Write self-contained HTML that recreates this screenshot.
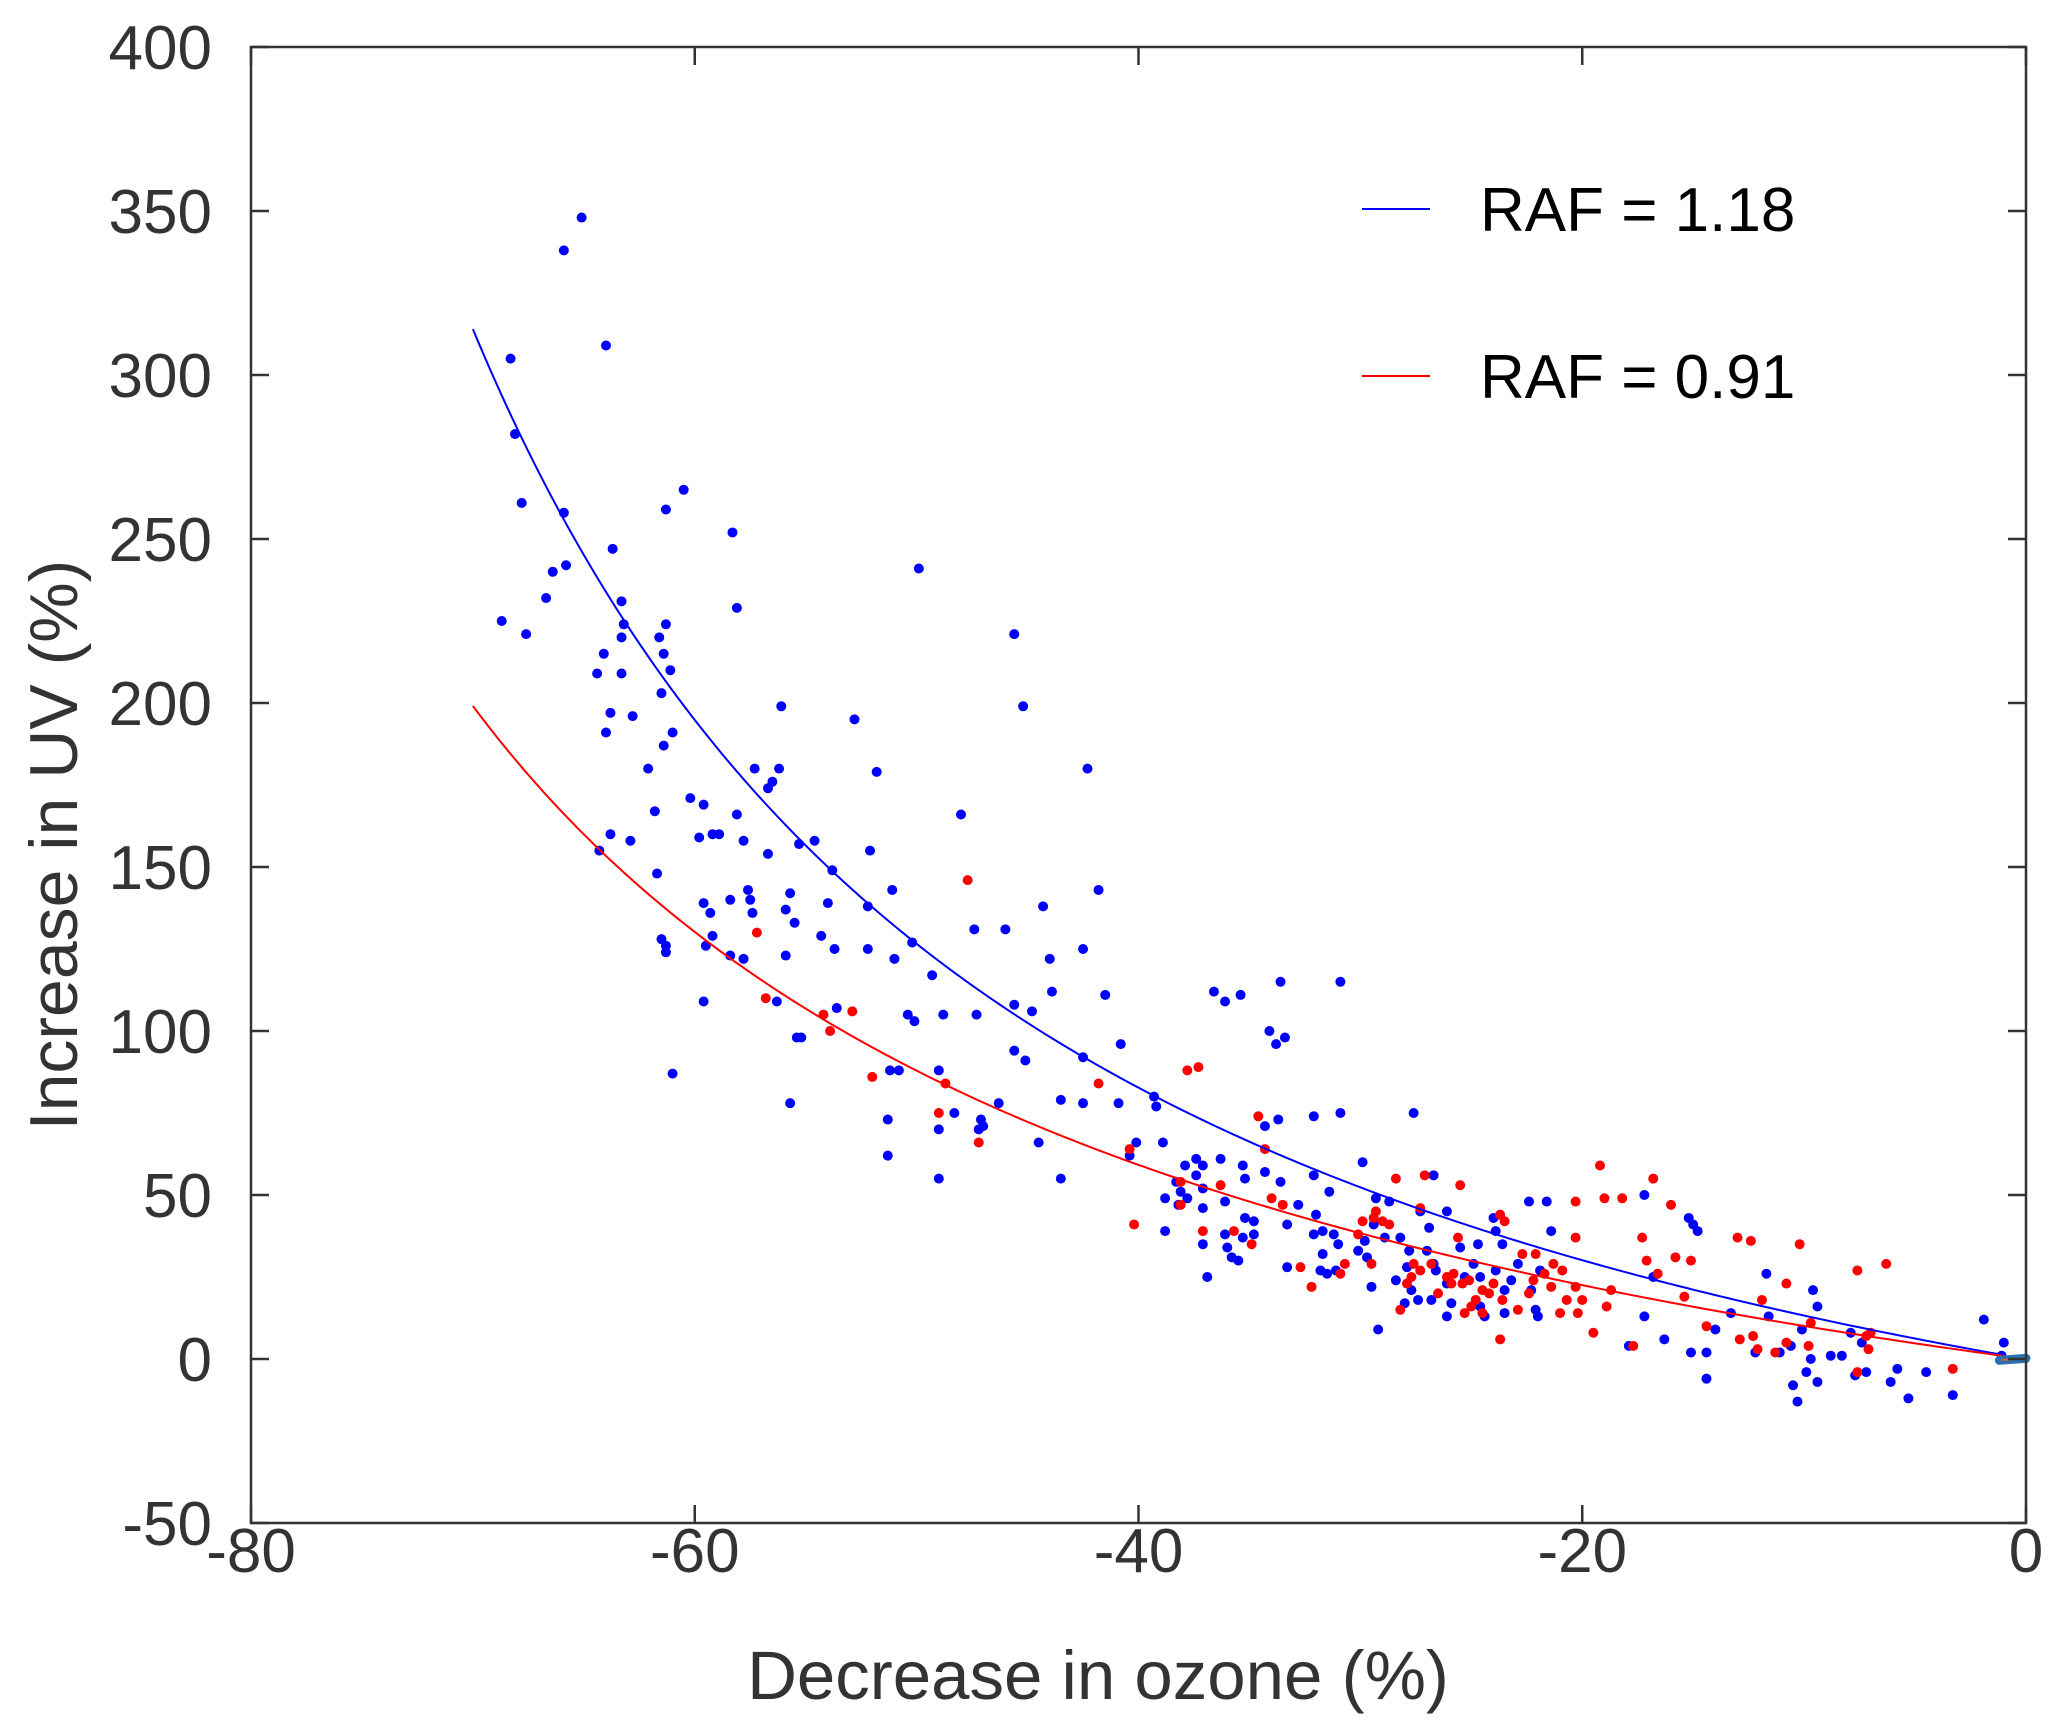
<!DOCTYPE html>
<html><head><meta charset="utf-8"><style>
html,body{margin:0;padding:0;background:#fff}
svg{display:block;font-family:"Liberation Sans",Arial,sans-serif}
</style></head><body>
<svg id="chart" width="2067" height="1723" viewBox="0 0 2067 1723">
<g id="dots"></g>
<g id="curves"></g>
<g id="axes"></g>
</svg>
<script>
const xTicks=[-80,-60,-40,-20,0];
const yTicks=[-50,0,50,100,150,200,250,300,350,400];
const rafValues=[1.18,0.91];
const seriesLabels=["RAF = 1.18","RAF = 0.91"];
const blueX=[-65.1,-65.9,-64.0,-68.3,-68.1,-67.8,-65.9,-60.5,-61.3,-58.3,-63.7,-65.8,-66.4,-49.9,-68.7,-66.7,-63.3,-67.6,-63.2,-61.3,-61.6,-63.3,-64.1,-61.4,-58.1,-45.6,-63.3,-64.4,-61.1,-61.5,-45.2,-56.1,-63.8,-62.8,-52.8,-61.0,-64.0,-61.4,-62.1,-57.3,-56.2,-51.8,-42.3,-56.5,-56.7,-60.2,-61.8,-59.6,-48.0,-58.1,-59.2,-58.9,-63.8,-59.8,-57.8,-55.3,-54.6,-62.9,-56.7,-53.8,-52.1,-61.7,-64.3,-51.1,-41.8,-57.6,-55.7,-57.5,-58.4,-59.6,-54.0,-57.4,-52.2,-44.3,-55.9,-59.3,-55.5,-46.0,-47.4,-54.3,-59.2,-61.5,-61.3,-59.5,-42.5,-61.3,-52.2,-53.7,-55.9,-51.0,-44.0,-57.8,-58.4,-50.2,-49.3,-43.9,-36.6,-33.6,-30.9,-41.5,-35.4,-36.1,-53.6,-45.6,-59.6,-56.3,-47.3,-44.8,-50.4,-48.8,-50.1,-34.1,-55.2,-55.4,-33.4,-40.8,-33.8,-45.6,-42.5,-45.1,-61.0,-50.8,-51.2,-49.0,-39.3,-55.7,-42.5,-43.5,-40.9,-39.2,-46.3,-30.9,-27.6,-48.3,-47.1,-51.3,-33.7,-34.3,-32.1,-47.2,-47.0,-49.0,-40.1,-44.5,-38.9,-40.4,-51.3,-37.4,-36.3,-29.9,-37.9,-37.1,-43.5,-49.0,-37.4,-35.3,-35.2,-34.3,-38.3,-38.1,-37.1,-33.6,-26.7,-32.1,-38.8,-37.8,-36.1,-29.3,-28.7,-31.4,-22.4,-21.6,-17.2,-38.2,-37.1,-32.8,-27.3,-32.0,-24.0,-26.1,-15.2,-15.0,-35.2,-34.8,-33.3,-29.4,-26.9,-23.9,-21.4,-14.8,-31.7,-38.8,-36.1,-35.3,-34.8,-37.1,-32.1,-31.2,-28.9,-28.2,-29.8,-31.0,-25.5,-24.7,-23.6,-27.8,-27.0,-36.0,-30.1,-31.7,-29.7,-22.9,-35.8,-35.5,-33.3,-27.9,-26.7,-24.9,-31.8,-23.9,-21.9,-36.9,-31.1,-31.5,-26.6,-24.6,-23.2,-16.8,-11.7,-28.4,-26.1,-25.3,-29.5,-27.7,-23.5,-22.3,-9.6,-28.0,-27.4,-26.8,-25.9,-24.6,-9.4,-22.1,-26.1,-24.4,-23.5,-22.0,-17.2,-11.6,-13.3,-29.2,-17.9,-16.3,-14.0,-10.1,-7.9,-1.9,-1.0,-1.1,-15.1,-14.4,-10.6,-8.8,-8.3,-12.2,-11.1,-7.4,-9.7,-5.8,-7.2,-4.5,-9.9,-7.7,-9.4,-14.4,-6.1,-10.5,-3.3,-5.3,-10.3];
const blueY=[348,338,309,305,282,261,258,265,259,252,247,242,240,241,225,232,231,221,224,224,220,220,215,215,229,221,209,209,210,203,199,199,197,196,195,191,191,187,180,180,180,179,180,176,174,171,167,169,166,166,160,160,160,159,158,157,158,158,154,149,155,148,155,143,143,143,142,140,140,139,139,136,138,138,137,136,133,131,131,129,129,128,126,126,125,124,125,125,123,122,122,122,123,127,117,112,112,115,115,111,111,109,107,108,109,109,105,106,105,105,103,100,98,98,98,96,96,94,92,91,87,88,88,88,80,78,78,79,78,77,78,75,75,75,73,73,73,71,74,70,71,70,66,66,66,62,62,61,61,60,59,59,55,55,56,59,55,57,54,51,52,54,56,56,49,49,48,49,48,51,48,48,50,47,46,47,45,44,43,45,43,41,43,42,41,41,40,39,39,39,39,39,38,37,38,35,38,38,37,37,36,35,34,35,35,33,33,34,33,32,31,29,31,30,28,28,29,29,27,27,27,25,27,26,27,25,24,25,26,24,23,25,22,21,21,21,21,17,18,18,17,16,16,15,13,13,14,13,13,13,14,9,4,6,9,9,8,12,5,1,2,2,4,1,1,2,2,5,0,-3,-4,-4,-4,-5,-7,-6,-7,-8,-11,-12,-13];
const redX=[-57.2,-56.8,-47.7,-54.2,-53.9,-52.9,-52.0,-48.7,-49.0,-47.2,-41.8,-40.4,-40.2,-37.8,-37.3,-34.6,-34.3,-38.1,-36.3,-34.0,-33.5,-38.1,-37.1,-35.7,-34.9,-32.7,-32.2,-29.9,-29.4,-30.1,-29.0,-29.3,-28.4,-28.7,-30.7,-30.9,-29.5,-27.6,-27.1,-27.3,-26.8,-27.3,-27.7,-27.9,-28.2,-26.5,-26.1,-25.9,-25.8,-25.6,-25.5,-25.4,-25.3,-25.1,-25.0,-24.8,-24.5,-24.5,-24.2,-24.0,-23.6,-23.7,-23.7,-23.5,-22.9,-22.7,-22.4,-22.2,-22.1,-21.7,-21.4,-21.3,-20.9,-21.0,-20.7,-20.3,-20.3,-20.3,-20.2,-20.0,-19.5,-19.2,-18.9,-19.0,-18.7,-18.2,-17.7,-17.3,-17.1,-16.8,-16.6,-16.0,-15.8,-15.4,-15.1,-14.4,-13.0,-12.4,-11.9,-12.9,-12.3,-12.1,-11.3,-10.8,-10.8,-10.2,-9.7,-9.8,-7.6,-7.6,-7.2,-7.1,-7.0,-6.3,-3.3];
const redY=[130,110,146,105,100,106,86,84,75,66,84,64,41,88,89,74,64,54,53,49,47,47,39,39,35,28,22,42,43,38,42,45,55,41,29,26,29,29,56,46,29,27,25,23,15,20,25,23,26,37,53,23,14,24,16,18,21,14,20,23,18,6,44,42,15,32,20,24,32,26,22,29,27,14,18,22,37,48,14,18,8,59,16,49,21,49,4,37,30,55,26,47,31,19,30,10,37,36,18,6,7,3,2,5,23,35,11,4,27,-4,7,3,8,29,-3];

const L=251,R=2026,T=47,B=1523;
const sx=v=>L+(v-(-80))/80*(R-L);
const sy=v=>B-(v-(-50))/450*(B-T);
const NS='http://www.w3.org/2000/svg';
function mk(tag,attrs,parent){const e=document.createElementNS(NS,tag);for(const k in attrs)e.setAttribute(k,attrs[k]);parent.appendChild(e);return e;}
const dots=document.getElementById('dots'),curves=document.getElementById('curves'),axes=document.getElementById('axes');

blueX.forEach((x,i)=>{const c=mk('circle',{cx:sx(x),cy:sy(blueY[i]),r:5,fill:'#0000ff'},dots);

});
redX.forEach((x,i)=>{const c=mk('circle',{cx:sx(x),cy:sy(redY[i]),r:5,fill:'#ff0000'},dots);

});

const colors=['#0000ff','#ff0000'];
rafValues.forEach((raf,k)=>{let d='';
for(let x=-70;x<=-1.0001;x+=0.25){const y=(Math.pow(1/(1+x/100),raf)-1)*100;d+=(d?'L':'M')+sx(x).toFixed(2)+','+sy(y).toFixed(2);}
const y1=(Math.pow(1/0.99,raf)-1)*100;d+='L'+sx(-1)+','+sy(y1);
const p=mk('path',{d:d,fill:'none',stroke:colors[k],'stroke-width':2},curves);

});
const m1=mk('line',{x1:sx(-1.2),y1:sy(-0.4),x2:sx(0),y2:sy(0.2),stroke:'#2a70b0','stroke-width':9,'stroke-linecap':'round'},curves);


mk('line',{x1:sx(-1.1),y1:sy(-0.3),x2:sx(-0.1),y2:sy(0.1),stroke:'#d0602a','stroke-width':2},curves);

const fr=mk('rect',{x:L,y:T,width:R-L,height:B-T,fill:'none',stroke:'#333','stroke-width':2.5},axes);


xTicks.forEach(v=>{const x=sx(v);
mk('line',{x1:x,y1:B,x2:x,y2:B-18,stroke:'#333','stroke-width':2.5},axes);
mk('line',{x1:x,y1:T,x2:x,y2:T+18,stroke:'#333','stroke-width':2.5},axes);
const t=mk('text',{x:x,y:1572,'font-size':62,fill:'#333','text-anchor':'middle'},axes);t.textContent=v;

});
yTicks.forEach(v=>{const y=sy(v);
mk('line',{x1:L,y1:y,x2:L+18,y2:y,stroke:'#333','stroke-width':2.5},axes);
mk('line',{x1:R,y1:y,x2:R-18,y2:y,stroke:'#333','stroke-width':2.5},axes);
const t=mk('text',{x:212,y:y+22,'font-size':62,fill:'#333','text-anchor':'end'},axes);t.textContent=v;

});
const xt=mk('text',{x:1098,y:1699,'font-size':69,fill:'#333','text-anchor':'middle'},axes);xt.textContent='Decrease in ozone (%)';


const yt=mk('text',{x:0,y:0,'font-size':68,fill:'#333','text-anchor':'middle',transform:'translate(77,845) rotate(-90)'},axes);yt.textContent='Increase in UV (%)';


[209,376].forEach((y,k)=>{const g=mk('g',{},axes);


mk('line',{x1:1362,y1:y,x2:1430,y2:y,stroke:colors[k],'stroke-width':2},g);
const t=mk('text',{x:1480,y:y+22,'font-size':62,fill:'#000'},g);t.textContent=seriesLabels[k];});
</script>
</body></html>
